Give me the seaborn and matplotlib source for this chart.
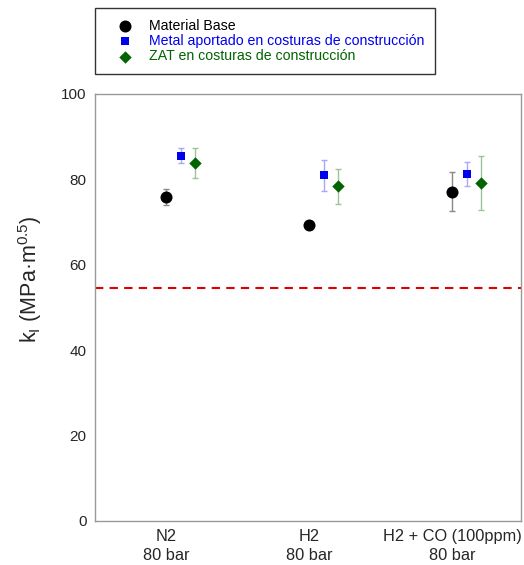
import numpy as np
import pandas as pd
import matplotlib
matplotlib.use("Agg")
import matplotlib.pyplot as plt
import seaborn as sns

# data
conditions = ["N2\n80 bar", "H2\n80 bar", "H2 + CO (100ppm)\n80 bar"]
series = ["Material Base",
          "Metal aportado en costuras de construcción",
          "ZAT en costuras de construcción"]
base_vals = [75.8, 69.3, 77.1]
base_err = [1.8, 0.5, 4.6]
weld_vals = [85.5, 80.9, 81.2]
weld_err = [1.7, 3.7, 2.8]
zat_vals = [83.9, 78.3, 79.1]
zat_err = [3.5, 4.1, 6.3]
threshold = 54.6

colors = ["black", "#0000ee", "#006400"]
err_colors = ["#888888", "#a8a8f8", "#9cc49c"]
markers = ["o", "s", "D"]
sizes = [75, 40, 40]
offsets = [0.0, 0.1, 0.2]

rows = []
for name, vals, errs, off in zip(series, [base_vals, weld_vals, zat_vals],
                                 [base_err, weld_err, zat_err], offsets):
    for i, (v, e) in enumerate(zip(vals, errs)):
        rows.append({"serie": name, "x": i + off, "k": v, "err": e})
df = pd.DataFrame(rows)

sns.set_style("white")
plt.rcParams["font.family"] = ["Liberation Sans", "DejaVu Sans"]

fig = plt.figure(figsize=(5.24, 5.65), dpi=100)
ax = fig.add_axes([0.181, 0.078, 0.813, 0.756])

for name, c, ec, m, s in zip(series, colors, err_colors, markers, sizes):
    d = df[df["serie"] == name]
    ax.errorbar(d["x"], d["k"], yerr=d["err"], fmt="none", ecolor=ec,
                elinewidth=1, capsize=2.5, capthick=1, zorder=2)
    sns.scatterplot(data=d, x="x", y="k", ax=ax, color=c, marker=m, s=s,
                    edgecolor=c, linewidth=0, label=name, zorder=3)

ax.axhline(threshold, color="#dd0000", ls=(0, (4, 3)), lw=1.5, zorder=1)

ax.set_xlim(-0.5, 2.48)
ax.set_ylim(0, 100)
ax.set_xticks(range(len(conditions)))
ax.set_xticklabels(conditions, fontsize=11.8, linespacing=1.3)
ax.set_yticks([0, 20, 40, 60, 80, 100])
ax.tick_params(axis="y", direction="in", length=5, color="#999999",
               labelsize=11, pad=6)
ax.tick_params(axis="x", length=0, pad=6)
ax.set_xlabel("")
ax.set_ylabel(r"k$_\mathregular{I}$ (MPa·m$^\mathregular{0.5}$)", fontsize=15.5)
ax.yaxis.set_label_coords(-0.12, 0.565)
for sp in ax.spines.values():
    sp.set_color("#999999")
    sp.set_linewidth(1)

handles, labels = ax.get_legend_handles_labels()
ax.get_legend().remove()
leg = fig.legend(handles, labels, loc="upper left",
                 bbox_to_anchor=(0.181, 0.986), fontsize=10.2,
                 frameon=True, fancybox=False, edgecolor="black",
                 handletextpad=0.4, borderpad=0.75, labelspacing=0.1,
                 borderaxespad=0, handlelength=2.7)
leg.get_frame().set_linewidth(1)
for t, c in zip(leg.get_texts(), colors):
    t.set_color(c)

fig.savefig("out.png", dpi=100)
